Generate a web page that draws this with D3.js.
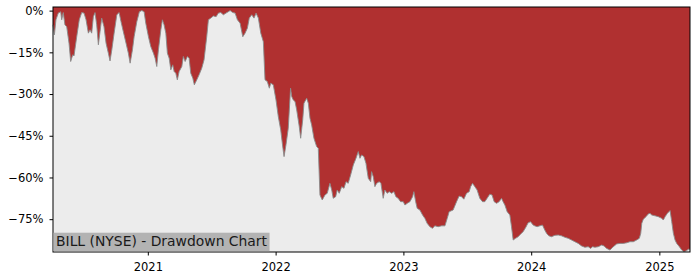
<!DOCTYPE html>
<html>
<head>
<meta charset="utf-8">
<script src="https://cdn.jsdelivr.net/npm/d3@7"></script>
<style>
  body { margin: 0; background: #fff; }
  svg { display: block; font-family: "DejaVu Sans", sans-serif; }
</style>
</head>
<body>
<div id="chart"></div>
<script>
// Chart data: date as decimal year, drawdown in %
const dateYears = [
  2020.260, 2020.271, 2020.283, 2020.301, 2020.320, 2020.328, 2020.340, 2020.353, 2020.367, 2020.385,
  2020.398, 2020.414, 2020.424, 2020.445, 2020.465, 2020.484, 2020.502, 2020.518, 2020.536, 2020.549,
  2020.562, 2020.575, 2020.588, 2020.601, 2020.614, 2020.627, 2020.640, 2020.658, 2020.674, 2020.692,
  2020.705, 2020.719, 2020.737, 2020.758, 2020.776, 2020.791, 2020.809, 2020.830, 2020.848, 2020.862,
  2020.880, 2020.893, 2020.914, 2020.934, 2020.953, 2020.971, 2020.984, 2021.005, 2021.023, 2021.044,
  2021.057, 2021.070, 2021.083, 2021.102, 2021.114, 2021.127, 2021.141, 2021.153, 2021.167, 2021.180,
  2021.195, 2021.206, 2021.219, 2021.231, 2021.245, 2021.266, 2021.278, 2021.292, 2021.310, 2021.323,
  2021.336, 2021.352, 2021.364, 2021.383, 2021.401, 2021.422, 2021.440, 2021.461, 2021.474, 2021.493,
  2021.513, 2021.534, 2021.552, 2021.571, 2021.591, 2021.612, 2021.644, 2021.665, 2021.683, 2021.701,
  2021.722, 2021.743, 2021.761, 2021.779, 2021.794, 2021.813, 2021.831, 2021.847, 2021.865, 2021.884,
  2021.904, 2021.917, 2021.935, 2021.951, 2021.962, 2021.982, 2022.003, 2022.021, 2022.040, 2022.054,
  2022.066, 2022.081, 2022.099, 2022.117, 2022.126, 2022.138, 2022.152, 2022.165, 2022.185, 2022.196,
  2022.212, 2022.222, 2022.243, 2022.256, 2022.269, 2022.282, 2022.300, 2022.321, 2022.334, 2022.347,
  2022.365, 2022.386, 2022.404, 2022.425, 2022.439, 2022.451, 2022.470, 2022.482, 2022.498, 2022.517,
  2022.535, 2022.551, 2022.568, 2022.587, 2022.608, 2022.629, 2022.647, 2022.660, 2022.673, 2022.691,
  2022.707, 2022.725, 2022.744, 2022.751, 2022.764, 2022.777, 2022.791, 2022.811, 2022.824, 2022.842,
  2022.855, 2022.873, 2022.889, 2022.908, 2022.926, 2022.941, 2022.959, 2022.978, 2022.999, 2023.012,
  2023.030, 2023.051, 2023.072, 2023.082, 2023.096, 2023.108, 2023.129, 2023.150, 2023.168, 2023.186,
  2023.207, 2023.228, 2023.246, 2023.272, 2023.299, 2023.325, 2023.343, 2023.358, 2023.389, 2023.416,
  2023.436, 2023.455, 2023.473, 2023.494, 2023.515, 2023.526, 2023.541, 2023.559, 2023.577, 2023.598,
  2023.619, 2023.637, 2023.655, 2023.676, 2023.694, 2023.710, 2023.729, 2023.749, 2023.768, 2023.780,
  2023.794, 2023.812, 2023.833, 2023.846, 2023.859, 2023.877, 2023.898, 2023.916, 2023.937, 2023.958,
  2023.976, 2023.995, 2024.015, 2024.028, 2024.046, 2024.067, 2024.088, 2024.106, 2024.120, 2024.138,
  2024.159, 2024.185, 2024.211, 2024.237, 2024.263, 2024.289, 2024.315, 2024.341, 2024.367, 2024.393,
  2024.419, 2024.445, 2024.464, 2024.479, 2024.497, 2024.523, 2024.550, 2024.568, 2024.589, 2024.615,
  2024.636, 2024.667, 2024.693, 2024.719, 2024.745, 2024.771, 2024.797, 2024.823, 2024.844, 2024.855,
  2024.863, 2024.875, 2024.896, 2024.914, 2024.927, 2024.941, 2024.967, 2024.992, 2025.019, 2025.031,
  2025.045, 2025.063, 2025.084, 2025.097, 2025.110, 2025.123, 2025.136, 2025.157, 2025.175, 2025.193,
  2025.214, 2025.227, 2025.240
];

const drawdownPct = [
  -5.1, -8.7, -3.3, -0.9, -0.4, -3.3, -0.7, -5.1, -5.8, -11.7,
  -18.3, -15.9, -16.3, -9.4, -3.3, -0.7, -0.9, -3.3, -8.1, -6.9,
  -8.1, -2.2, -0.7, -5.1, -12.3, -7.6, -2.7, -5.8, -11.7, -15.3,
  -18.1, -14.1, -8.1, -1.5, -0.7, -4.0, -7.6, -11.7, -15.3, -18.9,
  -14.1, -9.4, -4.0, -0.4, 0.0, -0.4, -4.5, -9.4, -12.9, -15.3,
  -17.1, -20.1, -14.1, -6.9, -3.3, -5.1, -8.1, -15.3, -17.1, -21.3,
  -19.5, -21.9, -22.5, -24.9, -21.9, -20.1, -16.5, -18.3, -16.5, -17.1,
  -22.5, -24.3, -26.7, -24.9, -23.1, -20.7, -17.7, -9.4, -3.3, -2.7,
  -1.9, -2.2, -0.9, -0.7, -1.5, -0.9, 0.0, -0.7, -0.9, -3.3,
  -4.5, -9.4, -8.1, -6.3, -2.7, -1.5, -2.7, -0.9, -2.7, -8.1,
  -11.2, -24.9, -25.5, -27.9, -26.1, -26.7, -32.1, -38.1, -42.9, -48.3,
  -52.5, -48.3, -42.3, -27.9, -30.9, -32.1, -32.7, -35.7, -41.7, -45.9,
  -39.3, -33.3, -31.5, -33.3, -38.7, -41.1, -45.9, -48.9, -49.5, -66.3,
  -68.1, -66.3, -65.7, -62.1, -64.5, -67.5, -66.9, -64.5, -65.7, -63.3,
  -63.9, -61.5, -62.1, -59.1, -55.5, -53.1, -50.7, -53.1, -51.9, -52.5,
  -54.9, -60.3, -61.5, -57.9, -59.7, -63.3, -62.1, -61.5, -62.1, -67.5,
  -64.5, -65.7, -65.1, -65.7, -65.1, -66.9, -67.5, -68.7, -68.7, -69.9,
  -69.3, -68.7, -66.9, -65.1, -68.7, -71.1, -71.7, -73.5, -74.7, -76.5,
  -77.7, -78.3, -77.4, -77.7, -77.4, -77.4, -74.7, -72.3, -71.7, -68.7,
  -66.7, -66.9, -67.8, -65.7, -65.1, -63.3, -62.1, -63.3, -64.5, -67.5,
  -68.7, -68.7, -67.5, -66.0, -66.3, -68.7, -69.3, -68.7, -67.5, -68.7,
  -69.9, -72.3, -73.5, -77.7, -82.5, -81.9, -81.3, -80.4, -79.5, -77.9,
  -76.3, -75.9, -77.1, -77.4, -77.7, -77.4, -77.1, -78.9, -80.1, -81.0,
  -81.3, -80.8, -80.7, -81.0, -81.5, -81.9, -82.5, -83.1, -83.7, -84.6,
  -85.1, -84.9, -85.5, -84.9, -85.1, -84.9, -84.3, -84.6, -85.5, -86.1,
  -85.1, -83.9, -83.7, -83.7, -83.5, -83.1, -83.1, -82.5, -81.9, -80.1,
  -76.5, -75.0, -74.1, -73.1, -72.9, -73.5, -73.8, -74.1, -74.7, -75.3,
  -74.1, -72.9, -71.9, -75.9, -80.1, -82.5, -83.7, -84.9, -86.1, -86.7,
  -86.3, -85.8, -85.8
];

const yTicks = [0, -15, -30, -45, -60, -75];
const xTickYears = [2021, 2022, 2023, 2024, 2025];
const chartTitle = "BILL (NYSE) - Drawdown Chart";

const width = 700;
const height = 280;
const margin = { top: 7, right: 10, bottom: 28, left: 53 };

// decimal year -> Date
function toDate(t) {
  const y = Math.floor(t);
  const start = Date.UTC(y, 0, 1);
  const end = Date.UTC(y + 1, 0, 1);
  return new Date(start + (t - y) * (end - start));
}

const data = dateYears.map((t, i) => ({ date: toDate(t), v: drawdownPct[i] }));

const svg = d3.select("#chart")
  .append("svg")
  .attr("width", width)
  .attr("height", height);

const x = d3.scaleUtc()
  .domain(d3.extent(data, d => d.date))
  .range([margin.left, width - margin.right]);

const y = d3.scaleLinear()
  .domain([-86.8, 1.3])
  .range([height - margin.bottom, margin.top]);

// plot background
svg.append("rect")
  .attr("x", margin.left)
  .attr("y", margin.top)
  .attr("width", width - margin.left - margin.right)
  .attr("height", height - margin.top - margin.bottom)
  .attr("fill", "#ececec");

// drawdown area: filled from the top of the plot down to the curve
const area = d3.area()
  .x(d => x(d.date))
  .y0(margin.top)
  .y1(d => y(d.v));

svg.append("path")
  .datum(data)
  .attr("d", area)
  .attr("fill", "#b03030");

svg.append("path")
  .datum(data)
  .attr("d", d3.line().x(d => x(d.date)).y(d => y(d.v)))
  .attr("fill", "none")
  .attr("stroke", "#8a8a8a")
  .attr("stroke-width", 0.9);

// y axis
svg.append("g")
  .attr("transform", `translate(${margin.left},0)`)
  .call(d3.axisLeft(y)
    .tickValues(yTicks)
    .tickSize(3.5)
    .tickPadding(6)
    .tickFormat(d => (d < 0 ? "\u2212" + Math.abs(d) : d) + "%"))
  .call(g => g.select(".domain").remove())
  .attr("font-size", "11.5px")
  .attr("font-family", "DejaVu Sans, sans-serif");

// x axis
svg.append("g")
  .attr("transform", `translate(0,${height - margin.bottom})`)
  .call(d3.axisBottom(x)
    .tickValues(xTickYears.map(yr => new Date(Date.UTC(yr, 0, 1))))
    .tickSize(3.5)
    .tickPadding(7)
    .tickFormat(d3.utcFormat("%Y")))
  .call(g => g.select(".domain").remove())
  .attr("font-size", "11.5px")
  .attr("font-family", "DejaVu Sans, sans-serif");

svg.selectAll(".tick text").attr("fill", "#000");
svg.selectAll(".tick line").attr("stroke", "#000");

// frame
svg.append("rect")
  .attr("x", margin.left)
  .attr("y", margin.top)
  .attr("width", width - margin.left - margin.right)
  .attr("height", height - margin.top - margin.bottom)
  .attr("fill", "none")
  .attr("stroke", "#000")
  .attr("stroke-width", 1);

// title box in the lower left corner
const titleG = svg.append("g");
const titleRect = titleG.append("rect").attr("fill", "#b3b3b3");
const titleText = titleG.append("text")
  .attr("x", margin.left + 3)
  .attr("y", height - margin.bottom - 6)
  .attr("font-size", "13.9px")
  .attr("fill", "#1a1a1a")
  .text(chartTitle);

const tw = titleText.node().getComputedTextLength();
titleRect
  .attr("x", margin.left + 0.5)
  .attr("y", height - margin.bottom - 19.3)
  .attr("width", tw + 5)
  .attr("height", 18.5);
</script>
</body>
</html>
